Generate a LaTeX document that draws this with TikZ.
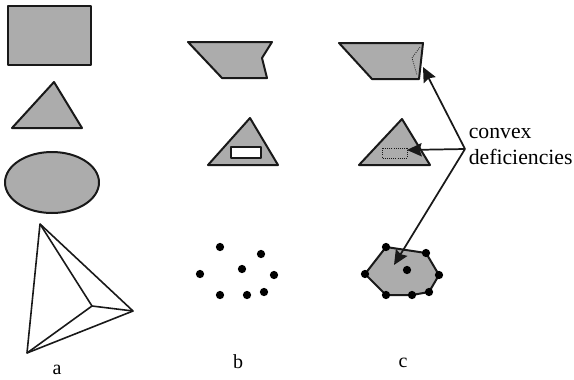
\documentclass[tikz,border=0pt]{standalone}
\usepackage{fontspec}
\setmainfont{Liberation Serif}
\usetikzlibrary{arrows.meta}
\definecolor{shapegray}{RGB}{172,172,172}
\definecolor{inkblack}{RGB}{25,25,25}

\begin{document}
\begin{tikzpicture}[x=0.75pt,y=-0.75pt,
   solid shape/.style={draw=inkblack,fill=shapegray,line width=1.5pt,line join=round},
   wire/.style={draw=inkblack,line width=1.2pt,line join=round},
   deficiency/.style={draw=inkblack,densely dotted,line width=0.6pt},
   dot/.style={circle,fill=black,inner sep=0pt,minimum size=6.2pt},
   lbl/.style={font=\fontsize{15}{17}\selectfont,inner sep=0pt},
   arr/.style={-{Stealth[length=11pt,width=10pt,inset=1.5pt]},line width=1.3pt,color=inkblack}]
  \useasboundingbox (0,0) rectangle (574,379);
  % column a
  \draw[solid shape] (7.5,6) rectangle (91,65);
  \draw[solid shape] (54,82) -- (12,128) -- (82,128) -- cycle;
  \draw[solid shape] (52,182.5) ellipse (47 and 30.5);
  \coordinate (top) at (40,224);
  \coordinate (lft) at (27,353);
  \coordinate (rgt) at (133,311);
  \coordinate (mid) at (92,306);
  \draw[wire] (top) -- (lft) -- (rgt) -- cycle;
  \draw[wire] (top) -- (mid);
  \draw[wire] (lft) -- (mid);
  \draw[wire] (rgt) -- (mid);
  \node[lbl] (la) at (57,370) {a};
  % column b
  \draw[solid shape] (188,42) -- (272,42) -- (262,58) -- (267,78) -- (222,78) -- cycle;
  \draw[solid shape] (250,118) -- (208,165) -- (278,165) -- cycle;
  \draw[solid shape,fill=white] (231,147) rectangle (261,158);
  \foreach \name/\pos in {b1/{220,247},b2/{261,254},b3/{200,274},b4/{242,269},
                          b5/{274,275},b6/{220,295},b7/{247,295},b8/{264,292}}
    \node[dot] (\name) at (\pos) {};
  \node[lbl] (lb) at (238,362) {b};
  % column c
  \draw[solid shape] (339,43) -- (423,43) -- (419,79) -- (372,79) -- cycle;
  \draw[deficiency] (420,47) -- (412,58) -- (417,75);
  \draw[solid shape] (402,119) -- (359,165) -- (430,165) -- cycle;
  \draw[deficiency] (382,148) rectangle (407,158);
  \draw[solid shape] (386,247) -- (426,253) -- (439,275) -- (429,292) -- (412,295)
        -- (386,295) -- (365,274) -- cycle;
  \foreach \name/\pos in {c1/{386,247},c2/{426,253},c3/{365,274},c4/{407,270},
                          c5/{439,275},c6/{386,295},c7/{412,295},c8/{429,292}}
    \node[dot] (\name) at (\pos) {};
  \node[lbl] (lc) at (403,363) {c};
  % label and arrows
  \node[font=\fontsize{16.3}{19}\selectfont,inner sep=0pt,anchor=base west] (conv) at (468.5,138) {convex};
  \node[font=\fontsize{16.3}{19}\selectfont,inner sep=0pt,anchor=base west] (defi) at (468.5,164) {deficiencies};
  \coordinate (fork) at (465,149);
  \coordinate (d1) at (423,67);
  \coordinate (d2) at (407,150);
  \coordinate (d3) at (394,265);
  \draw[arr] (fork) -- (d1);
  \draw[arr] (fork) -- (d2);
  \draw[arr] (fork) -- (d3);
\end{tikzpicture}
\end{document}
